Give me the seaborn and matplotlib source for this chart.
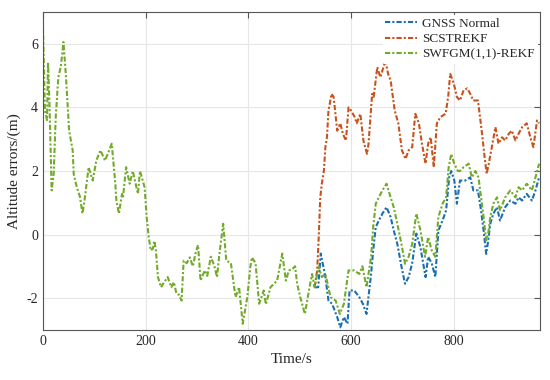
import numpy as np
import pandas as pd
import matplotlib
matplotlib.use("Agg")
import matplotlib.pyplot as plt
import seaborn as sns

# values
t_swf = [0, 4, 8, 10, 13, 17, 21, 25, 30, 35, 40, 45, 51, 58, 60, 66, 72, 77, 81, 89,
         97, 104, 112, 121, 129, 134, 141, 143, 148, 154, 156, 162, 169, 175, 185, 189, 198, 202, 206, 210,
         214, 217, 220, 224, 230, 236, 243, 250, 255, 260, 265, 270, 274, 280, 286, 292, 297, 302, 307, 315,
         320, 327, 334, 339, 343, 351, 357, 366, 375, 382, 389, 398, 404, 407, 414, 421, 430, 434, 443, 456,
         466, 473, 479, 485, 491, 495, 501, 510, 518, 524, 529, 537, 543, 550, 560, 570, 578, 586, 595, 606,
         616, 622, 630, 639, 643, 648, 654, 661, 669, 677, 683, 690, 698, 705, 712, 719, 727, 735, 744, 750,
         757, 764, 770, 778, 785, 790, 795, 801, 808, 812, 819, 829, 835, 842, 848, 853, 858, 863, 867, 871,
         877, 884, 890, 900, 910, 920, 926, 933, 942, 952, 959, 966]
y_swf = [6.64, 3.9, 3.6, 5.43, 4.0, 1.39, 1.92, 3.7, 4.95, 5.3, 6.06, 4.95, 3.27, 2.65, 1.9, 1.49, 1.2, 0.66, 1.07, 2.12,
         1.7, 2.33, 2.65, 2.33, 2.65, 2.86, 1.6, 1.07, 0.66, 1.28, 1.17, 2.12, 1.6, 2.0, 1.28, 2.0, 1.49, 0.55, -0.08, -0.5,
         -0.45, -0.2, -0.5, -1.34, -1.66, -1.5, -1.34, -1.66, -1.5, -1.86, -1.9, -2.08, -0.82, -0.9, -0.72, -1.0, -0.6, -0.33, -1.45, -1.13,
         -1.3, -0.7, -1.0, -1.34, -0.7, 0.34, -0.82, -0.9, -1.97, -1.66, -2.81, -1.97, -1.0, -0.72, -0.9, -2.18, -1.76, -2.2, -1.66, -1.45,
         -0.6, -1.45, -1.13, -1.1, -1.0, -1.55, -1.97, -2.5, -1.76, -1.24, -1.66, -1.0, -1.34, -1.24, -1.97, -2.08, -2.5, -2.18, -1.13, -1.13,
         -1.24, -1.0, -1.66, -0.7, 0.23, 0.97, 1.17, 1.39, 1.6, 1.17, 0.86, 0.34, -0.29, -0.92, -0.7, -0.29, 0.66, 0.13, -0.7, -0.08,
         -0.5, -0.7, 0.55, 0.97, 1.17, 2.12, 2.54, 2.23, 2.0, 2.0, 2.12, 2.23, 1.8, 2.0, 1.8, 1.17, 0.55, -0.19, 0.03, 0.55,
         0.97, 1.17, 0.76, 1.17, 1.39, 1.17, 1.49, 1.39, 1.6, 1.39, 1.8, 2.23]

t_gnss = [529, 536, 541, 550, 556, 563, 573, 579, 586, 593, 597, 606, 616, 623, 630, 639, 643, 648, 654, 661,
          669, 677, 683, 690, 698, 705, 712, 719, 727, 735, 745, 750, 757, 764, 770, 778, 785, 791, 795, 801,
          806, 812, 822, 832, 838, 847, 853, 858, 863, 867, 871, 877, 884, 890, 900, 910, 920, 926, 933, 942,
          952, 959, 966]
y_gnss = [-1.66, -1.66, -0.6, -1.34, -2.08, -2.18, -2.6, -2.92, -2.6, -2.81, -1.76, -1.76, -1.97, -2.18, -2.5, -1.24, -0.5, 0.23, 0.44, 0.66,
          0.86, 0.55, 0.13, -0.29, -1.0, -1.55, -1.34, -0.9, 0.03, -0.4, -1.34, -0.7, -0.9, -1.34, 0.13, 0.44, 0.76, 1.8, 2.0, 1.7,
          0.97, 1.7, 1.7, 1.8, 1.39, 1.39, 0.76, 0.13, -0.61, -0.19, 0.34, 0.66, 0.86, 0.44, 0.86, 1.07, 0.97, 1.17, 1.07, 1.28,
          1.07, 1.39, 1.8]

t_scs = [529, 534, 537, 540, 543, 547, 550, 553, 556, 562, 566, 573, 579, 584, 590, 595, 600, 607, 611, 618,
         624, 631, 634, 641, 644, 651, 657, 667, 672, 677, 685, 692, 699, 706, 712, 719, 725, 732, 738, 745,
         750, 755, 761, 767, 774, 784, 789, 793, 800, 806, 812, 819, 826, 832, 838, 847, 851, 855, 860, 864,
         868, 874, 881, 887, 894, 900, 907, 913, 920, 926, 933, 942, 949, 955, 962, 966]
y_scs = [-1.66, -1.13, -0.08, 1.17, 1.6, 2.0, 2.75, 3.06, 3.9, 4.43, 4.33, 3.27, 3.5, 3.17, 2.96, 4.0, 3.9, 3.7, 3.5, 3.8,
         2.96, 2.54, 2.86, 4.43, 4.33, 5.27, 4.95, 5.48, 5.06, 4.85, 3.9, 3.5, 2.65, 2.38, 2.65, 2.75, 3.8, 3.5, 2.86, 2.23,
         2.86, 3.06, 2.12, 3.5, 3.7, 3.8, 4.33, 5.06, 4.75, 4.33, 4.22, 4.54, 4.6, 4.43, 4.22, 4.22, 3.7, 3.17, 2.43, 1.91,
         2.23, 2.75, 3.38, 2.86, 3.06, 2.96, 3.17, 3.27, 2.96, 3.17, 3.38, 3.5, 3.06, 2.75, 3.59, 3.5]

names = ["GNSS Normal", "SCSTREKF", "SWFGM(1,1)-REKF"]
colors = ["#1a6fb0", "#c9521c", "#72aa2a"]

df = pd.concat([
    pd.DataFrame({"t": t_gnss, "y": y_gnss, "method": names[0]}),
    pd.DataFrame({"t": t_scs, "y": y_scs, "method": names[1]}),
    pd.DataFrame({"t": t_swf, "y": y_swf, "method": names[2]}),
])

sns.set_style("whitegrid", {"grid.color": "#e6e6e6", "axes.edgecolor": "#555555"})
plt.rcParams['font.family'] = ['Liberation Serif', 'DejaVu Serif']
plt.rcParams['axes.unicode_minus'] = False

dash = (0, (2.5, 1, 1, 1))

fig = plt.figure(figsize=(5.5, 3.8), dpi=100)
ax = fig.add_axes([0.078, 0.132, 0.904, 0.836])

sns.lineplot(data=df, x="t", y="y", hue="method", palette=dict(zip(names, colors)),
             estimator=None, sort=False, linewidth=1.5, ax=ax)
for line in ax.get_lines():
    line.set_linestyle(dash)

ax.set_xlim(0, 968)
ax.set_ylim(-3, 7)
ax.set_xticks([0, 200, 400, 600, 800])
ax.set_yticks([-2, 0, 2, 4, 6])
ax.tick_params(direction="in", top=True, right=True, labelsize=10, length=4, color="#555555")
ax.set_xlabel("Time/s", fontsize=11)
ax.set_ylabel("Altitude errors/(m)", fontsize=11)
for s in ax.spines.values():
    s.set_linewidth(0.8)

leg = ax.legend(loc="upper right", fontsize=9.5, frameon=True, framealpha=1, edgecolor="white",
                borderaxespad=0.2, handlelength=2.4, handletextpad=0.4, labelspacing=0.25, borderpad=0.2)
for h in leg.get_lines():
    h.set_linestyle(dash)
    h.set_linewidth(1.5)

fig.savefig("out.png", dpi=100)
